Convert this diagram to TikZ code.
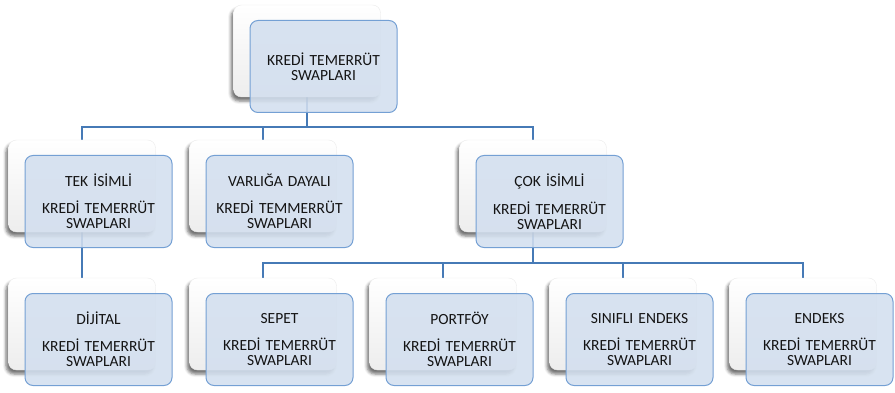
\documentclass[tikz,border=0pt]{standalone}
\usepackage{fontspec}
\setmainfont{Carlito}
\usetikzlibrary{positioning,shadows.blur}

\definecolor{linkblue}{RGB}{70,122,182}
\definecolor{boxfill}{RGB}{211,223,239}
\definecolor{boxline}{RGB}{116,160,212}
\definecolor{textdark}{RGB}{20,20,20}

\pgfdeclarelayer{bg}
\pgfsetlayers{bg,main}

\tikzset{
  backbox/.style={draw=black!8, rounded corners=8pt, top color=white,
    bottom color=black!7, minimum width=147pt, minimum height=92pt,
    inner sep=0pt, blur shadow={shadow xshift=-2.5pt, shadow yshift=-4pt,
    shadow blur radius=3pt, shadow opacity=55}},
  frontbox/.style={draw=boxline, line width=1pt, fill=boxfill,
    fill opacity=0.88, text opacity=1, rounded corners=8pt,
    minimum width=147pt, minimum height=92pt, inner sep=0pt,
    text width=140pt, align=center, text=textdark,
    font=\fontsize{15.5}{15}\selectfont},
  link/.style={draw=linkblue, line width=2.5pt}
}

\begin{document}
\begin{tikzpicture}[x=1pt,y=1pt]
    \useasboundingbox (0,0) rectangle (895,-393);
    \def\dx{16.5}
    \def\dy{-15.5}
    % top level
    \node[backbox] (kts) at (307,-51) {};
    \node[frontbox] (kts-f) at ([shift={(\dx,\dy)}]kts.center)
      {KREDİ TEMERRÜT\\SWAPLARI};
    % second level
    \node[backbox] (tek) at (82,-186) {};
    \node[frontbox] (tek-f) at ([shift={(\dx,\dy)}]tek.center)
      {TEK İSİMLİ\\[12pt]KREDİ TEMERRÜT\\SWAPLARI};
    \node[backbox] (varlik) at (263,-186) {};
    \node[frontbox] (varlik-f) at ([shift={(\dx,\dy)}]varlik.center)
      {VARLIĞA DAYALI\\[12pt]KREDİ TEMMERRÜT\\SWAPLARI};
    \node[backbox] (cok) at (533,-186) {};
    \node[frontbox] (cok-f) at ([shift={(\dx,\dy)}]cok.center)
      {ÇOK İSİMLİ\\[12pt]KREDİ TEMERRÜT\\SWAPLARI};
    % third level
    \node[backbox] (dijital) at (82,-324) {};
    \node[frontbox] (dijital-f) at ([shift={(\dx,\dy)}]dijital.center)
      {DİJİTAL\\[12pt]KREDİ TEMERRÜT\\SWAPLARI};
    \node[backbox] (sepet) at (263,-324) {};
    \node[frontbox] (sepet-f) at ([shift={(\dx,\dy)}]sepet.center)
      {SEPET\\[12pt]KREDİ TEMERRÜT\\SWAPLARI};
    \node[backbox] (portfoy) at (443,-324) {};
    \node[frontbox] (portfoy-f) at ([shift={(\dx,\dy)}]portfoy.center)
      {PORTFÖY\\[12pt]KREDİ TEMERRÜT\\SWAPLARI};
    \node[backbox] (sinifli) at (623,-324) {};
    \node[frontbox] (sinifli-f) at ([shift={(\dx,\dy)}]sinifli.center)
      {SINIFLI ENDEKS\\[12pt]KREDİ TEMERRÜT\\SWAPLARI};
    \node[backbox] (endeks) at (803,-324) {};
    \node[frontbox] (endeks-f) at ([shift={(\dx,\dy)}]endeks.center)
      {ENDEKS\\[12pt]KREDİ TEMERRÜT\\SWAPLARI};
    % connectors, behind the boxes
    \begin{pgfonlayer}{bg}
      \draw[link] (kts.south) -- ++(0,-30) -| (tek.north);
      \draw[link] (kts.south) -- ++(0,-30) -| (varlik.north);
      \draw[link] (kts.south) -- ++(0,-30) -| (cok.north);
      \draw[link] (tek.south) -- (dijital.north);
      \foreach \kid in {sepet,portfoy,sinifli,endeks}
        \draw[link] (cok.south) -- ++(0,-31) -| (\kid.north);
    \end{pgfonlayer}
\end{tikzpicture}
\end{document}
